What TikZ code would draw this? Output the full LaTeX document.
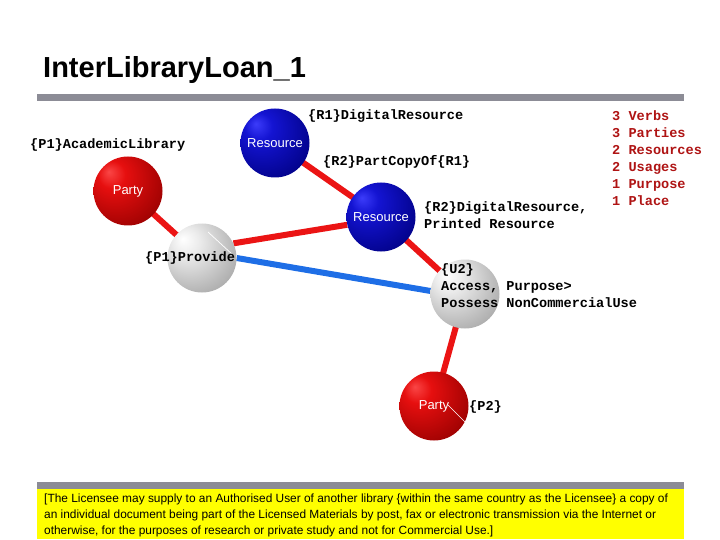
\documentclass[tikz,border=0pt]{standalone}
\usepackage{fontspec}
\setmainfont{Liberation Sans}
\newfontfamily\monob{Liberation Mono}
\usetikzlibrary{backgrounds,calc}
\definecolor{rb1}{RGB}{250,70,70}
\definecolor{rb2}{RGB}{230,15,15}
\definecolor{rb3}{RGB}{150,0,0}
\definecolor{rb4}{RGB}{70,0,0}
\definecolor{bb1}{RGB}{60,60,250}
\definecolor{bb2}{RGB}{20,20,210}
\definecolor{bb3}{RGB}{0,0,130}
\definecolor{bb4}{RGB}{0,0,50}
\definecolor{gb1}{RGB}{255,255,255}
\definecolor{gb2}{RGB}{235,235,235}
\definecolor{gb3}{RGB}{165,165,165}
\definecolor{gb4}{RGB}{90,90,90}
\definecolor{barcol}{RGB}{140,140,150}
\definecolor{linered}{RGB}{235,20,20}
\definecolor{lineblue}{RGB}{30,110,230}
\definecolor{statred}{RGB}{175,20,20}
\definecolor{boxyellow}{RGB}{255,255,0}
\pgfdeclareradialshading{redball}{\pgfpoint{-14bp}{14bp}}{color(0bp)=(rb1); color(10bp)=(rb2); color(38bp)=(rb3); color(66bp)=(rb4)}
\pgfdeclareradialshading{blueball}{\pgfpoint{-14bp}{14bp}}{color(0bp)=(bb1); color(10bp)=(bb2); color(38bp)=(bb3); color(66bp)=(bb4)}
\pgfdeclareradialshading{grayball}{\pgfpoint{-14bp}{14bp}}{color(0bp)=(gb1); color(10bp)=(gb2); color(38bp)=(gb3); color(66bp)=(gb4)}
\tikzset{
  sphere/.style={circle, minimum size=69pt, inner sep=0pt, text=white, font=\fontsize{13}{15}\selectfont},
  redsphere/.style={sphere, shading=redball},
  bluesphere/.style={sphere, shading=blueball},
  graysphere/.style={sphere, shading=grayball},
  lbl/.style={inner sep=0pt, font=\monob\bfseries\fontsize{13.6}{17}\selectfont, align=left},
  statlbl/.style={lbl, text=statred},
  redlink/.style={draw=linered, line width=6pt},
  bluelink/.style={draw=lineblue, line width=6pt},
  glint/.style={draw=white, line width=0.7pt},
  bar/.style={fill=barcol, draw=none}
}
\begin{document}
\begin{tikzpicture}[x=1pt,y=-1pt]
\path[use as bounding box] (0,0) rectangle (720,540);
% title and bars
\node[anchor=base west, inner sep=0pt, font=\bfseries\fontsize{29}{32}\selectfont] (title) at (43,78) {InterLibraryLoan\_1};
\path[bar] (37,94) rectangle (684,101);
\path[bar] (37,482) rectangle (684,489);
\node[fill=boxyellow, minimum width=647pt, minimum height=50pt, inner sep=0pt, anchor=north west] (box) at (37,489) {};
\node[anchor=north west, inner sep=0pt, align=left, font=\fontsize{11.9}{15.7}\selectfont] (boxtext) at (44,494)
  {[The Licensee may supply to an Authorised User of another library \{within the same country as the Licensee\} a copy of\\
   an individual document being part of the Licensed Materials by post, fax or electronic transmission via the Internet or\\
   otherwise, for the purposes of research or private study and not for Commercial Use.]};
% spheres
\node[bluesphere] (res1) at (275,143) {Resource};
\node[redsphere] (party1) at (128,191) {Party};
\node[graysphere] (prov) at (202,258) {};
\node[bluesphere] (res2) at (381,217) {Resource};
\node[graysphere] (u2) at (465,294) {};
\node[redsphere] (party2) at (434,406) {Party};
% links
\begin{scope}[on background layer]
\draw[redlink] (party1.center) -- (prov.center);
\draw[redlink] (res1.center) -- (res2.center);
\draw[redlink] (prov.25) -- (res2.193);
\draw[redlink] (res2.center) -- (u2.center);
\draw[redlink] (u2.center) -- (party2.center);
\draw[bluelink] (prov.0) -- (u2.175);
\end{scope}
% glints
\draw[glint] ($(prov.center)+(6,-26)$) -- ($(prov.center)+(31,-3)$);
\draw[glint] ($(party2.center)+(14,-1)$) -- ($(party2.center)+(31,16)$);
% labels
\node[lbl, anchor=west] (lr1) at (308,116) {\{R1\}DigitalResource};
\node[lbl, anchor=west] (lp1) at (30,145) {\{P1\}AcademicLibrary};
\node[lbl, anchor=west] (lr2a) at (323,162) {\{R2\}PartCopyOf\{R1\}};
\node[lbl, anchor=north west] (lr2b) at (424,201) {\{R2\}DigitalResource,\\Printed Resource};
\node[lbl, anchor=west] (lprov) at (145,258) {\{P1\}Provide};
\node[lbl, anchor=north west] (lu2) at (441,263) {\{U2\}\\Access, Purpose>\\Possess NonCommercialUse};
\node[lbl, anchor=west] (lp2) at (469,407) {\{P2\}};
\node[statlbl, anchor=north west] (stats) at (612,110) {3 Verbs\\3 Parties\\2 Resources\\2 Usages\\1 Purpose\\1 Place};
\end{tikzpicture}
\end{document}
